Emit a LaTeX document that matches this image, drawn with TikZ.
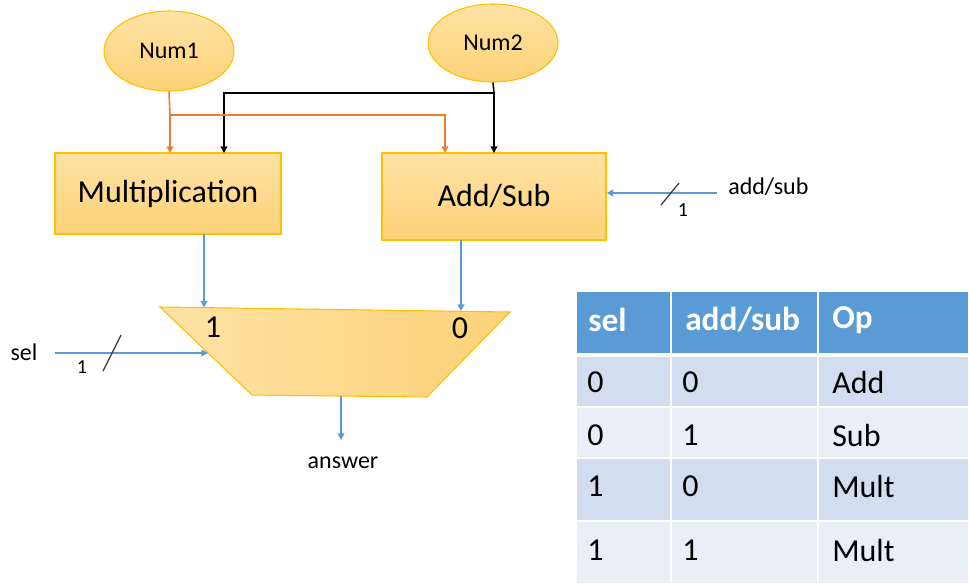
\documentclass[tikz,border=0pt]{standalone}
\usepackage{fontspec}
\setmainfont{Carlito}
\usetikzlibrary{arrows.meta,shapes.geometric}
\definecolor{boxfill}{RGB}{254,216,140}
\definecolor{boxlight}{RGB}{254,226,165}
\definecolor{boxdark}{RGB}{253,210,120}
\definecolor{boxline}{RGB}{255,192,0}
\definecolor{arrorange}{RGB}{237,125,49}
\definecolor{arrblue}{RGB}{91,155,213}
\definecolor{hdrblue}{RGB}{91,155,213}
\definecolor{rowdark}{RGB}{210,222,239}
\definecolor{rowlight}{RGB}{234,239,247}
\begin{document}
\begin{tikzpicture}[x=0.75pt,y=-0.75pt,
  numnode/.style={ellipse,draw=boxline,line width=0.8pt,top color=boxlight,bottom color=boxdark,
    minimum width=130*0.75pt,minimum height=80*0.75pt,inner sep=0pt,font=\fontsize{18}{20}\selectfont},
  unitbox/.style={rectangle,draw=boxline,line width=0.8pt,top color=boxlight,bottom color=boxdark,
    inner sep=0pt,font=\fontsize{24}{28}\selectfont},
  blk/.style={draw=black,line width=1.2pt,-{Triangle[length=5pt,width=5pt]}},
  org/.style={draw=arrorange,line width=1.2pt,-{Triangle[length=5pt,width=5pt]}},
  blu/.style={draw=arrblue,line width=1.2pt,-{Triangle[length=5pt,width=5pt]}},
  lbl/.style={inner sep=0pt,font=\fontsize{18}{20}\selectfont},
  small/.style={inner sep=0pt,font=\fontsize{15}{17}\selectfont},
  muxlbl/.style={inner sep=0pt,font=\fontsize{24}{28}\selectfont},
  hdr/.style={inner sep=0pt,anchor=west,text=white,font=\bfseries\fontsize{25}{28}\selectfont},
  cell/.style={inner sep=0pt,anchor=west,font=\fontsize{24}{28}\selectfont}]
\useasboundingbox (0,0) rectangle (969,583);

% input ellipses
\node[numnode] (num1) at (169,51) {Num1};
\node[numnode,minimum width=130*0.75pt,minimum height=78*0.75pt] (num2) at (493,43) {Num2};

% units
\node[unitbox,minimum width=226*0.75pt,minimum height=81*0.75pt] (mult) at (168,193.5) {Multiplication};
\node[unitbox,minimum width=224*0.75pt,minimum height=87*0.75pt] (addsub) at (494,196.5) {Add/Sub};

% wiring from inputs
\coordinate (bj) at (494,93);
\coordinate (oj) at (170,115);
\draw[line width=1.2pt] (num2.south) -- (bj);
\draw[blk] (bj) -- (224,93) -- (224,153);
\draw[blk] (bj) -- (494,153);
\draw[line width=1.2pt,draw=arrorange] (num1.south) -- (oj);
\draw[org] (oj) -- (170,153);
\draw[org] (oj) -- (445,115) -- (445,153);

% add/sub control
\node[lbl,anchor=west] (aslbl) at (728,187) {add/sub};
\coordinate (asin) at (717,193);
\draw[blu] (asin) -- (addsub.east |- asin);
\draw[line width=1pt,draw=black!75] (661,205) -- (679,183);
\node[small] (as1) at (683,210) {1};

% multiplexer
\coordinate (mtl) at (160,307);
\coordinate (mtr) at (510,312);
\coordinate (mbr) at (427,397);
\coordinate (mbl) at (252,395);
\path[draw=boxline,line width=0.8pt,left color=boxlight,right color=boxdark] (mtl) -- (mtr) -- (mbr) -- (mbl) -- cycle;
\node[muxlbl] (m1) at (213,327) {1};
\node[muxlbl] (m0) at (460,328) {0};
\draw[blu] (204,234) -- (204,307.5);
\draw[blu] (461,240) -- (461,311);

% sel input
\node[lbl] (sellbl) at (24,352) {sel};
\coordinate (selin) at (55,353);
\coordinate (selend) at (208,353);
\draw[blu] (selin) -- (selend);
\draw[line width=1pt,draw=black!75] (103,371) -- (121,335);
\node[small] (sel1) at (82,367) {1};

% output
\coordinate (mout) at (341,396);
\node[lbl] (ans) at (343,463) {answer};
\draw[blu] (mout) -- (341,440);

% truth table
\fill[hdrblue] (577,292) rectangle (968,353);
\fill[rowdark] (577,357) rectangle (968,407);
\fill[rowlight] (577,407) rectangle (968,458);
\fill[rowdark] (577,458) rectangle (968,521);
\fill[rowlight] (577,521) rectangle (968,583);
\draw[white,line width=1.5pt] (671,292) -- (671,583);
\draw[white,line width=1.5pt] (818,292) -- (818,583);
\draw[white,line width=1.2pt] (577,407) -- (968,407);
\draw[white,line width=1.2pt] (577,458) -- (968,458);
\draw[white,line width=1.2pt] (577,521) -- (968,521);

\node[hdr] (h1) at (588,320) {sel};
\node[hdr] (h2) at (685,320) {add/sub};
\node[hdr] (h3) at (832,320) {Op};
\node[cell] (r11) at (587,382) {0};
\node[cell] (r12) at (682,382) {0};
\node[cell] (r13) at (832,382) {Add};
\node[cell] (r21) at (587,435) {0};
\node[cell] (r22) at (682,435) {1};
\node[cell] (r23) at (832,435) {Sub};
\node[cell] (r31) at (587,486) {1};
\node[cell] (r32) at (682,486) {0};
\node[cell] (r33) at (832,486) {Mult};
\node[cell] (r41) at (587,550) {1};
\node[cell] (r42) at (682,550) {1};
\node[cell] (r43) at (832,550) {Mult};
\end{tikzpicture}
\end{document}
